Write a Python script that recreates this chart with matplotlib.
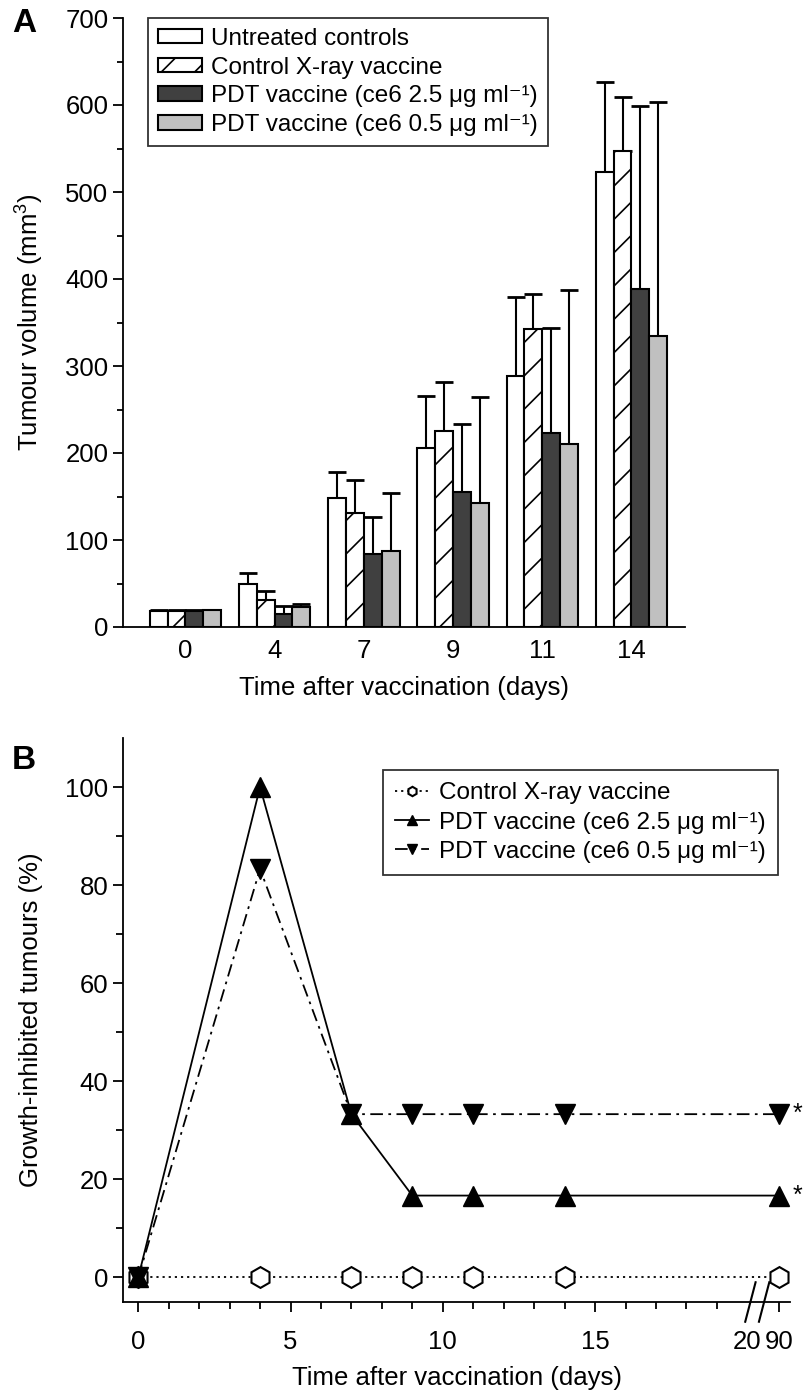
import matplotlib
matplotlib.use("Agg")
import matplotlib.pyplot as plt
import numpy as np

plt.rcParams['font.family'] = ['Liberation Sans', 'DejaVu Sans']
plt.rcParams['mathtext.fontset'] = 'custom'
plt.rcParams['mathtext.rm'] = 'Liberation Sans'
plt.rcParams['mathtext.it'] = 'Liberation Sans:italic'
plt.rcParams['hatch.linewidth'] = 1.2

# ---------------- Panel A data ----------------
days_a = ['0', '4', '7', '9', '11', '14']
series_a = ['Untreated controls', 'Control X-ray vaccine',
            'PDT vaccine (ce6 2.5 μg ml⁻¹)',
            'PDT vaccine (ce6 0.5 μg ml⁻¹)']
untreated = [18, 49, 148, 206, 289, 523]
untreated_err = [1, 13, 30, 60, 90, 104]
xray = [18, 31, 131, 225, 342, 547]
xray_err = [1, 10, 38, 57, 41, 62]
pdt25 = [18, 15, 84, 155, 223, 389]
pdt25_err = [1, 9, 42, 78, 121, 210]
pdt05 = [19, 23, 87, 143, 210, 334]
pdt05_err = [1, 3, 67, 121, 177, 269]

# ---------------- Panel B data ----------------
days_b = [0, 4, 7, 9, 11, 14, 90]
series_b = ['Control X-ray vaccine',
            'PDT vaccine (ce6 2.5 μg ml⁻¹)',
            'PDT vaccine (ce6 0.5 μg ml⁻¹)']
ctrl_b = [0, 0, 0, 0, 0, 0, 0]
pdt25_b = [0, 100, 33.3, 16.7, 16.7, 16.7, 16.7]
pdt05_b = [0, 83.3, 33.3, 33.3, 33.3, 33.3, 33.3]
xticks_b = [0, 5, 10, 15, 20, 90]

TICK_FS = 18.5
LAB_FS = 18.5
LEG_FS = 17.5

W, H = 806, 1391
fig = plt.figure(figsize=(W / 100, H / 100), dpi=100)

def fx(px):
    return px / W

def fy(py):
    return 1 - py / H

# ---------- Panel A ----------
axA = fig.add_axes([fx(123), fy(627), fx(685) - fx(123), fy(18) - fy(627)])
x = np.arange(len(days_a))
bw = 0.2
vals = [untreated, xray, pdt25, pdt05]
errs = [untreated_err, xray_err, pdt25_err, pdt05_err]
faces = ['white', 'white', '#404040', '#c0c0c0']
hatches = [None, '/', None, None]
for i in range(4):
    pos = x + (i - 1.5) * bw
    axA.bar(pos, vals[i], bw, color=faces[i], edgecolor='black', linewidth=1.5,
            hatch=hatches[i], label=series_a[i], zorder=2)
    axA.errorbar(pos, vals[i], yerr=[np.zeros(len(x)), errs[i]], fmt='none',
                 ecolor='black', elinewidth=1.5, capsize=6.5, capthick=2, zorder=1)
axA.set_xlim(-0.7, 5.6)
axA.set_ylim(0, 700)
axA.set_xticks(x)
axA.set_xticklabels(days_a)
axA.set_yticks(np.arange(0, 701, 100))
axA.set_yticks(np.arange(50, 700, 100), minor=True)
axA.tick_params(axis='x', length=0, labelsize=TICK_FS, pad=9)
axA.tick_params(axis='y', which='major', length=7, width=1.3, labelsize=TICK_FS, direction='out')
axA.tick_params(axis='y', which='minor', length=4, width=1.3, direction='out')
for s in ['top', 'right']:
    axA.spines[s].set_visible(False)
for s in ['left', 'bottom']:
    axA.spines[s].set_linewidth(1.3)
axA.set_xlabel('Time after vaccination (days)', fontsize=LAB_FS, labelpad=9)
axA.set_ylabel('Tumour volume (mm$^3$)', fontsize=LAB_FS, labelpad=14)
legA = axA.legend(loc='upper left', bbox_to_anchor=(0.045, 1.0), fontsize=LEG_FS,
                  frameon=True, fancybox=False, edgecolor='black', borderaxespad=0,
                  handlelength=1.8, handleheight=0.55, handletextpad=0.4,
                  labelspacing=0.28, borderpad=0.4)
legA.get_frame().set_linewidth(1.3)
fig.text(fx(12), fy(24), 'A', fontsize=24, fontweight='bold', ha='left', va='center')

# ---------- Panel B ----------
axB = fig.add_axes([fx(123), fy(1302), fx(790) - fx(123), fy(738) - fy(1302)])
# map day 90 onto broken axis position
xpos_b = [d if d <= 20 else 21.05 for d in days_b]
axB.plot(xpos_b, ctrl_b, linestyle=(0, (1.2, 2.2)), color='black', linewidth=1.3,
         marker='h', markersize=15, markerfacecolor='white', markeredgecolor='black',
         markeredgewidth=1.5, label=series_b[0], zorder=2)
axB.plot(xpos_b, pdt25_b, linestyle='-', color='black', linewidth=1.3,
         marker='^', markersize=15, markerfacecolor='black', markeredgecolor='black',
         label=series_b[1], zorder=3)
axB.plot(xpos_b, pdt05_b, linestyle=(0, (7, 3, 1.5, 3)), color='black', linewidth=1.3,
         marker='v', markersize=15, markerfacecolor='black', markeredgecolor='black',
         label=series_b[2], zorder=3)
axB.text(xpos_b[-1] + 0.45, pdt05_b[-1], '*', fontsize=18, ha='left', va='center')
axB.text(xpos_b[-1] + 0.45, pdt25_b[-1], '*', fontsize=18, ha='left', va='center')
axB.set_xlim(-0.5, 21.4)
axB.set_ylim(-5, 110)
tick_pos_b = [t if t <= 20 else 21.05 for t in xticks_b]
axB.set_xticks(tick_pos_b)
axB.set_xticklabels([str(t) for t in xticks_b])
axB.set_xticks([m for m in range(1, 20) if m % 5 != 0], minor=True)
axB.set_yticks(np.arange(0, 101, 20))
axB.set_yticks(np.arange(10, 100, 20), minor=True)
axB.tick_params(axis='both', which='major', length=7, width=1.3, labelsize=TICK_FS, direction='out')
axB.tick_params(axis='both', which='minor', length=5, width=1.3, direction='out')
axB.tick_params(axis='x', which='major', pad=13)
# hide the tick at 20 (break marks there)
xt = axB.xaxis.get_major_ticks()
xt[4].tick1line.set_visible(False)
xt[4].label1.set_x(19.85)
for s in ['top', 'right']:
    axB.spines[s].set_visible(False)
for s in ['left', 'bottom']:
    axB.spines[s].set_linewidth(1.3)
# axis break marks
trans = axB.get_xaxis_transform()
for bx in [20.05, 20.5]:
    axB.plot([bx - 0.12, bx + 0.22], [-0.035, 0.035], transform=trans, color='black',
             linewidth=1.5, clip_on=False)
axB.set_xlabel('Time after vaccination (days)', fontsize=LAB_FS, labelpad=9)
axB.set_ylabel('Growth-inhibited tumours (%)', fontsize=LAB_FS, labelpad=16)
legB = axB.legend(loc='upper right', bbox_to_anchor=(0.982, 0.943), fontsize=LEG_FS,
                  frameon=True, fancybox=False, edgecolor='black', borderaxespad=0,
                  handlelength=1.4, handletextpad=0.4, labelspacing=0.3,
                  borderpad=0.5, markerscale=0.45)
legB.get_frame().set_linewidth(1.3)
fig.text(fx(12), fy(760), 'B', fontsize=24, fontweight='bold', ha='left', va='center')

fig.savefig('out.png', dpi=100)
